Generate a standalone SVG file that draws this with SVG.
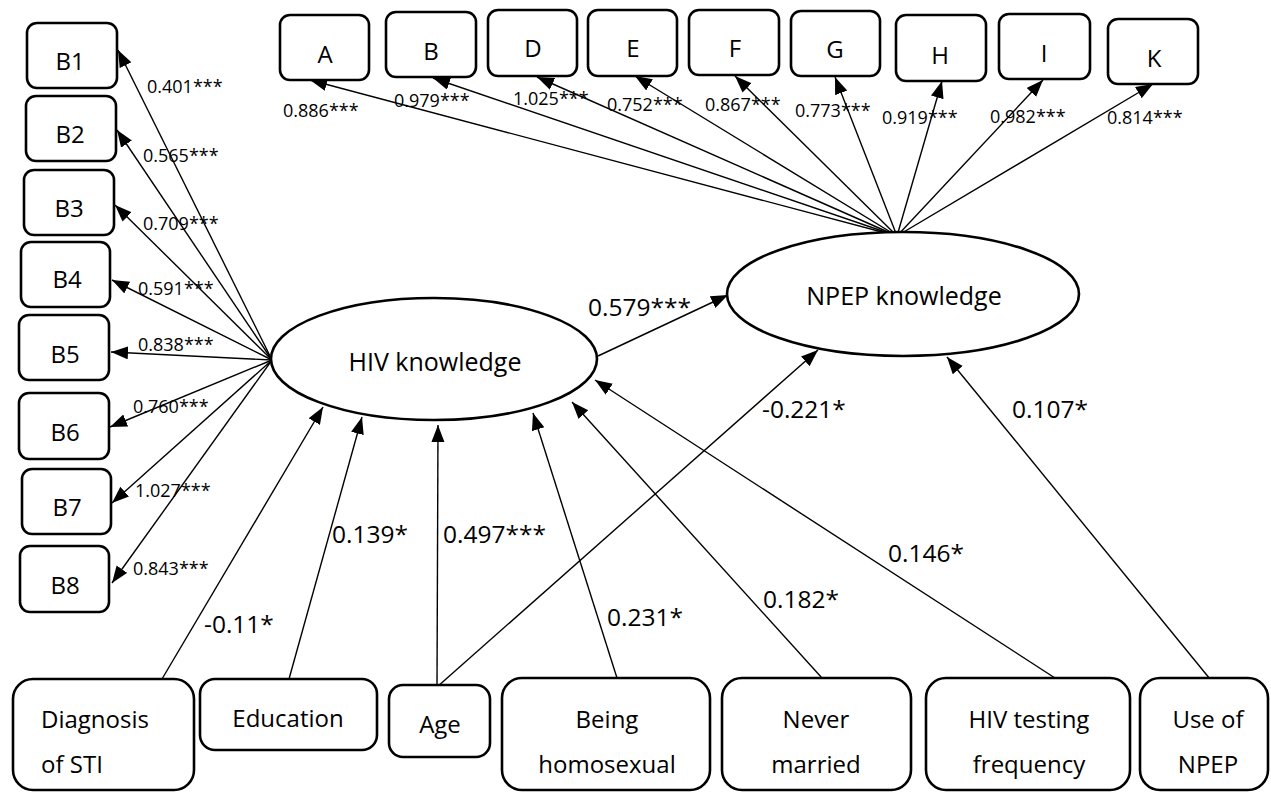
<svg xmlns="http://www.w3.org/2000/svg" width="1271" height="793" viewBox="0 0 1271 793">
<style>
.box{fill:#fff;stroke:#000;stroke-width:2.6}
.ell{fill:#fff;stroke:#000;stroke-width:2.6}
.t{font-family:"Open Sans","Liberation Sans",sans-serif;fill:#000;text-anchor:middle}
.lbl{font-size:24px}
.big{font-size:25px}
.sm{font-family:"Open Sans","Liberation Sans",sans-serif;font-size:18px;fill:#000}
.co{font-family:"Open Sans","Liberation Sans",sans-serif;font-size:24.5px;fill:#000}
.c line{stroke:#000;stroke-width:1.4;marker-end:url(#ah)}
</style>
<defs>
<marker id="ah" markerUnits="userSpaceOnUse" markerWidth="18" markerHeight="14" refX="17" refY="6.5" orient="auto">
<path d="M0,0 L17,6.5 L0,13 z" fill="#000"/>
</marker>
</defs>
<rect width="1271" height="793" fill="#fff"/>

<g class="c" id="connectors">
<line x1="272" y1="360" x2="118" y2="50"/>
<line x1="272" y1="360" x2="117" y2="130"/>
<line x1="272" y1="360" x2="115" y2="205"/>
<line x1="272" y1="360" x2="112" y2="280"/>
<line x1="272" y1="360" x2="111" y2="352"/>
<line x1="272" y1="360" x2="110" y2="427"/>
<line x1="272" y1="360" x2="112" y2="503"/>
<line x1="272" y1="360" x2="112" y2="583"/>
<line x1="897" y1="236" x2="310" y2="80"/>
<line x1="897" y1="236" x2="433" y2="78"/>
<line x1="897" y1="236" x2="537" y2="77"/>
<line x1="897" y1="236" x2="635" y2="76"/>
<line x1="897" y1="236" x2="735" y2="76"/>
<line x1="897" y1="236" x2="835" y2="77"/>
<line x1="897" y1="236" x2="942" y2="81"/>
<line x1="897" y1="236" x2="1043" y2="80"/>
<line x1="897" y1="236" x2="1153" y2="84"/>
<line x1="598" y1="356" x2="728" y2="295"/>
<line x1="162" y1="679" x2="323" y2="407"/>
<line x1="289" y1="679" x2="362" y2="417"/>
<line x1="437" y1="687" x2="438" y2="425"/>
<line x1="437" y1="687" x2="818" y2="350"/>
<line x1="617" y1="678" x2="533" y2="413"/>
<line x1="822" y1="678" x2="572" y2="402"/>
<line x1="1055" y1="678" x2="595" y2="380"/>
<line x1="1210" y1="679" x2="947" y2="357"/>
</g>

<g id="labels">
<text class="sm" x="147" y="93">0.401***</text>
<text class="sm" x="143" y="162">0.565***</text>
<text class="sm" x="143" y="230">0.709***</text>
<text class="sm" x="138" y="295">0.591***</text>
<text class="sm" x="138" y="351">0.838***</text>
<text class="sm" x="133" y="413">0.760***</text>
<text class="sm" x="135" y="497">1.027***</text>
<text class="sm" x="133" y="575">0.843***</text>
<text class="sm" x="283" y="117">0.886***</text>
<text class="sm" x="394" y="107">0.979***</text>
<text class="sm" x="513" y="105">1.025***</text>
<text class="sm" x="607" y="111">0.752***</text>
<text class="sm" x="705" y="111">0.867***</text>
<text class="sm" x="795" y="117">0.773***</text>
<text class="sm" x="882" y="124">0.919***</text>
<text class="sm" x="990" y="123">0.982***</text>
<text class="sm" x="1107" y="124">0.814***</text>
<text class="co" x="588" y="316">0.579***</text>
<text class="co" x="762" y="418">-0.221*</text>
<text class="co" x="1012" y="418">0.107*</text>
<text class="co" x="332" y="543">0.139*</text>
<text class="co" x="443" y="543">0.497***</text>
<text class="co" x="204" y="633">-0.11*</text>
<text class="co" x="607" y="626">0.231*</text>
<text class="co" x="763" y="608">0.182*</text>
<text class="co" x="888" y="562">0.146*</text>
</g>

<g id="B1"><rect class="box" x="27" y="23" width="90" height="65" rx="10"/><text class="t lbl" x="70" y="70">B1</text></g>
<g id="B2"><rect class="box" x="26" y="96" width="90" height="65" rx="10"/><text class="t lbl" x="70" y="143">B2</text></g>
<g id="B3"><rect class="box" x="24" y="170" width="90" height="65" rx="10"/><text class="t lbl" x="69" y="217">B3</text></g>
<g id="B4"><rect class="box" x="21" y="242" width="89" height="65" rx="10"/><text class="t lbl" x="67" y="288">B4</text></g>
<g id="B5"><rect class="box" x="19" y="315" width="90" height="65" rx="10"/><text class="t lbl" x="65" y="363">B5</text></g>
<g id="B6"><rect class="box" x="19" y="393" width="90" height="66" rx="10"/><text class="t lbl" x="65" y="441">B6</text></g>
<g id="B7"><rect class="box" x="22" y="469" width="89" height="65" rx="10"/><text class="t lbl" x="67" y="516">B7</text></g>
<g id="B8"><rect class="box" x="20" y="546" width="89" height="66" rx="10"/><text class="t lbl" x="65" y="594">B8</text></g>

<g id="A"><rect class="box" x="280" y="15" width="89" height="65" rx="10"/><text class="t lbl" x="325" y="63">A</text></g>
<g id="B"><rect class="box" x="386" y="12" width="90" height="65" rx="10"/><text class="t lbl" x="431" y="60">B</text></g>
<g id="D"><rect class="box" x="488" y="10" width="89" height="66" rx="10"/><text class="t lbl" x="533" y="57">D</text></g>
<g id="E"><rect class="box" x="588" y="10" width="89" height="66" rx="10"/><text class="t lbl" x="633" y="57">E</text></g>
<g id="F"><rect class="box" x="689" y="10" width="90" height="65" rx="10"/><text class="t lbl" x="735" y="57">F</text></g>
<g id="G"><rect class="box" x="791" y="11" width="89" height="65" rx="10"/><text class="t lbl" x="835" y="58">G</text></g>
<g id="H"><rect class="box" x="896" y="15" width="90" height="66" rx="10"/><text class="t lbl" x="940" y="64">H</text></g>
<g id="I"><rect class="box" x="999" y="14" width="91" height="65" rx="10"/><text class="t lbl" x="1044" y="62">I</text></g>
<g id="K"><rect class="box" x="1108" y="19" width="90" height="65" rx="10"/><text class="t lbl" x="1154" y="67">K</text></g>

<g id="hiv"><ellipse class="ell" cx="434" cy="359" rx="163" ry="61"/><text class="t big" x="435" y="371">HIV knowledge</text></g>
<g id="npep"><ellipse class="ell" cx="903" cy="294" rx="176" ry="62"/><text class="t big" x="904" y="305">NPEP knowledge</text></g>

<g id="sti"><rect class="box" x="13" y="679" width="181" height="111" rx="20"/><text class="t lbl" x="41" y="728" style="text-anchor:start">Diagnosis</text><text class="t lbl" x="41" y="773" style="text-anchor:start">of STI</text></g>
<g id="edu"><rect class="box" x="200" y="679" width="177" height="71" rx="15"/><text class="t lbl" x="288" y="727">Education</text></g>
<g id="age"><rect class="box" x="389" y="685" width="101" height="72" rx="14"/><text class="t lbl" x="440" y="733">Age</text></g>
<g id="homo"><rect class="box" x="502" y="678" width="208" height="112" rx="20"/><text class="t lbl" x="607" y="728">Being</text><text class="t lbl" x="607" y="773">homosexual</text></g>
<g id="never"><rect class="box" x="722" y="678" width="189" height="112" rx="20"/><text class="t lbl" x="816" y="728">Never</text><text class="t lbl" x="816" y="773">married</text></g>
<g id="test"><rect class="box" x="926" y="678" width="204" height="112" rx="20"/><text class="t lbl" x="1029" y="728">HIV testing</text><text class="t lbl" x="1029" y="773">frequency</text></g>
<g id="use"><rect class="box" x="1140" y="678" width="128" height="112" rx="20"/><text class="t lbl" x="1208" y="728">Use of</text><text class="t lbl" x="1208" y="773">NPEP</text></g>
</svg>
